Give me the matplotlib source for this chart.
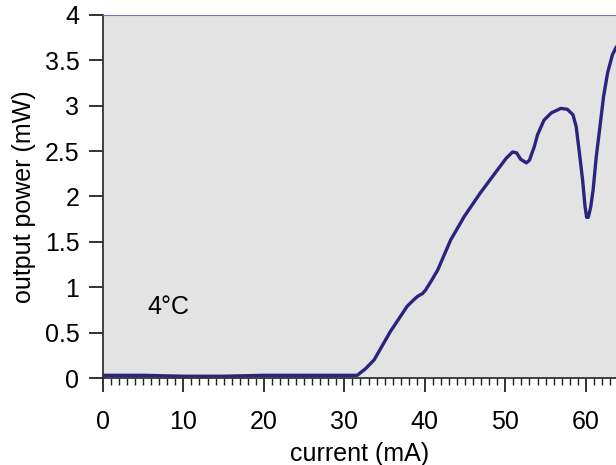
import matplotlib
matplotlib.use("Agg")
import matplotlib.pyplot as plt
from matplotlib.ticker import MultipleLocator

# L-I curve
current = [0.2, 5, 10, 15, 20, 25, 30, 31.6, 32.6, 33.7, 35.7, 37.8, 38.6,
           39.1, 39.7, 40.1, 40.8, 41.6, 43.2, 44.9, 46.9, 49.0, 50.1, 50.9,
           51.4, 51.9, 52.6, 53.0, 53.6, 54.0, 54.8, 55.7, 56.9, 57.7, 58.4,
           58.8, 59.2, 59.6, 59.9, 60.1, 60.3, 60.6, 60.9, 61.3, 61.7, 62.2,
           62.7, 63.3, 63.8]
power = [0.03, 0.03, 0.02, 0.02, 0.03, 0.03, 0.03, 0.03, 0.10, 0.20, 0.51,
         0.79, 0.86, 0.90, 0.93, 0.97, 1.07, 1.19, 1.52, 1.78, 2.04, 2.29,
         2.42, 2.49, 2.48, 2.41, 2.37, 2.40, 2.55, 2.68, 2.84, 2.92, 2.97,
         2.96, 2.90, 2.77, 2.48, 2.18, 1.89, 1.77, 1.77, 1.88, 2.07, 2.44,
         2.73, 3.10, 3.36, 3.56, 3.65]

xticks = [0, 10, 20, 30, 40, 50, 60]
yticks = [0, 0.5, 1, 1.5, 2, 2.5, 3, 3.5, 4]
ytick_labels = ["0", "0.5", "1", "1.5", "2", "2.5", "3", "3.5", "4"]

plt.rcParams["font.family"] = ["Liberation Sans", "DejaVu Sans"]

fig = plt.figure(figsize=(6.16, 4.65), dpi=100)
ax = fig.add_axes([0.167, 0.187, 0.835, 0.781])
ax.set_facecolor("#e3e3e3")

ax.plot(current, power, color="#2a2380", lw=2.4, solid_joinstyle="round",
        solid_capstyle="round")

ax.set_xlim(0, 63.9)
ax.set_ylim(0, 4)
ax.set_xticks(xticks)
ax.set_yticks(yticks)
ax.set_yticklabels(ytick_labels)
ax.xaxis.set_minor_locator(MultipleLocator(1))

ax.tick_params(axis="both", which="major", direction="out", length=10,
               width=1.3, color="#222222", labelsize=18)
ax.tick_params(axis="x", which="major", pad=13)
ax.tick_params(axis="y", which="major", pad=7)
ax.tick_params(axis="x", which="minor", direction="out", length=5,
               width=1.0, color="#222222")

for side in ["left", "bottom"]:
    ax.spines[side].set_color("#333333")
    ax.spines[side].set_linewidth(1.3)
ax.spines["top"].set_color("#7a70b8")
ax.spines["top"].set_linewidth(0.8)
ax.spines["right"].set_color("#8aa8d8")
ax.spines["right"].set_linewidth(1.0)

ax.set_xlabel("current (mA)", fontsize=18, labelpad=6)
ax.set_ylabel("output power (mW)", fontsize=18, labelpad=6)

ax.text(5.5, 0.78, "4°C", fontsize=18, va="center", ha="left")

fig.savefig("out.png", dpi=100)
